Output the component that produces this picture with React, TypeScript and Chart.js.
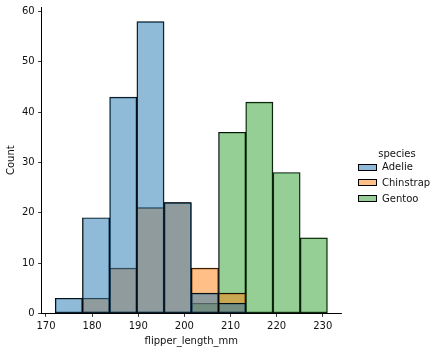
import React, { useEffect, useRef } from "react";
import { Chart, registerables } from "chart.js";
Chart.register(...registerables);

const binEdges = [172.0, 177.9, 183.8, 189.7, 195.6, 201.5, 207.4, 213.3, 219.2, 225.1, 231.0];
const speciesNames = ["Adelie", "Chinstrap", "Gentoo"];
const adelieCounts = [3, 19, 43, 58, 22, 4, 2, 0, 0, 0];
const chinstrapCounts = [0, 3, 9, 21, 22, 9, 4, 0, 0, 0];
const gentooCounts = [0, 0, 0, 0, 0, 2, 36, 42, 28, 15];
const xTickValues = [170, 180, 190, 200, 210, 220, 230];
const yTickValues = [0, 10, 20, 30, 40, 50, 60];
const fillColors = ["rgba(31,119,180,0.5)", "rgba(255,127,14,0.5)", "rgba(44,160,44,0.5)"];

const FONT = "'DejaVu Sans', sans-serif";
const TEXT = "#111";

export default function App() {
  const ref = useRef<HTMLCanvasElement>(null);
  useEffect(() => {
    const centers = binEdges.slice(0, -1).map((e, i) => (e + binEdges[i + 1]) / 2);
    const series = [adelieCounts, chinstrapCounts, gentooCounts];
    const lo = binEdges[0];
    const hi = binEdges[binEdges.length - 1];
    const span = hi - lo;
    const xMin = lo - span * 0.05;
    const xMax = hi + span * 0.05;
    const yMax = Math.max(...series.flat()) * 1.05;
    const chart = new Chart(ref.current!, {
      type: "bar",
      data: {
        datasets: series.map((counts, k) => ({
          label: speciesNames[k],
          data: centers.map((x, i) => ({ x, y: counts[i] })).filter((p) => p.y > 0),
          backgroundColor: fillColors[k],
          borderColor: "#000",
          borderWidth: 0.8,
          borderSkipped: false,
          categoryPercentage: 1,
          barPercentage: 1,
          grouped: false,
        })),
      } as any,
      options: {
        responsive: false,
        animation: false,
        devicePixelRatio: 1,
        layout: { padding: { top: 7, right: 101, left: 0, bottom: 0 } },
        plugins: { legend: { display: false }, tooltip: { enabled: false } },
        scales: {
          x: {
            type: "linear",
            min: xMin,
            max: xMax,
            offset: false,
            grid: { display: true, drawOnChartArea: false, drawTicks: true, tickLength: 3.5, color: "#000", offset: false, lineWidth: 0.8 },
            border: { display: true, color: "#000", width: 1 },
            ticks: { padding: 3.5, color: TEXT, font: { family: FONT, size: 10 }, autoSkip: false, maxRotation: 0 },
            afterBuildTicks: (s: any) => {
              s.ticks = xTickValues.map((v) => ({ value: v }));
            },
            afterFit: (s: any) => {
              s.height = 38.7;
              s.paddingLeft = 0;
              s.paddingRight = 0;
            },
            title: { display: true, text: "flipper_length_mm", color: TEXT, font: { family: FONT, size: 10 }, padding: { top: 0, bottom: 5 } },
          },
          y: {
            type: "linear",
            min: 0,
            max: yMax,
            grid: { display: true, drawOnChartArea: false, drawTicks: true, tickLength: 3.5, color: "#000", lineWidth: 0.8 },
            border: { display: true, color: "#000", width: 1 },
            ticks: { padding: 3.5, color: TEXT, font: { family: FONT, size: 10 }, autoSkip: false },
            afterBuildTicks: (s: any) => {
              s.ticks = yTickValues.map((v) => ({ value: v }));
            },
            afterFit: (s: any) => {
              s.width = 41.6;
              s.paddingTop = 0;
              s.paddingBottom = 0;
            },
            title: { display: true, text: "Count", color: TEXT, font: { family: FONT, size: 10 }, padding: { top: 5, bottom: 0 } },
          },
        },
      } as any,
    });
    return () => chart.destroy();
  }, []);

  const rowCenters = [167.3, 182.8, 198.5];
  return (
    <div style={{ position: "absolute", left: 0, top: 0, width: 442, height: 352, background: "#fff" }}>
      <canvas ref={ref} width={442} height={352} style={{ display: "block", position: "absolute", left: 0, top: 0 }} />
      <div
        style={{
          position: "absolute",
          left: 357,
          width: 80,
          top: 148,
          height: 12,
          lineHeight: "12px",
          fontFamily: FONT,
          fontSize: 10,
          color: TEXT,
          textAlign: "center",
        }}
      >
        species
      </div>
      {speciesNames.map((name, k) => (
        <React.Fragment key={name}>
          <div
            style={{
              position: "absolute",
              left: 358,
              top: rowCenters[k] - 3.5,
              width: 19,
              height: 7,
              boxSizing: "border-box",
              border: "0.8px solid #000",
              background: fillColors[k],
            }}
          />
          <div
            style={{
              position: "absolute",
              left: 382,
              top: rowCenters[k] - 6,
              height: 12,
              lineHeight: "12px",
              fontFamily: FONT,
              fontSize: 10,
              color: TEXT,
              whiteSpace: "nowrap",
            }}
          >
            {name}
          </div>
        </React.Fragment>
      ))}
    </div>
  );
}
